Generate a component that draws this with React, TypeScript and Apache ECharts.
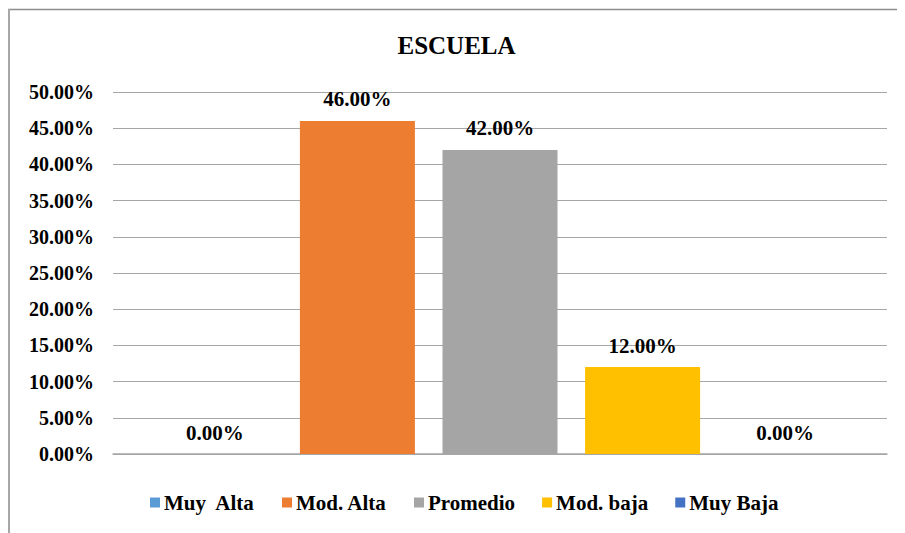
import React, { useEffect, useRef } from "react";
import * as echarts from "echarts";

const title = "ESCUELA";
const categories = ["ESCUELA"];
const seriesNames = ["Muy  Alta", "Mod. Alta", "Promedio", "Mod. baja", "Muy Baja"];
const seriesValues = [0, 46, 42, 12, 0];
const seriesColors = ["#5B9BD5", "#ED7D31", "#A5A5A5", "#FFC000", "#4472C4"];
const yMin = 0;
const yMax = 50;
const yInterval = 5;

const FONT = "Times New Roman, Liberation Serif, serif";

export default function App() {
  const ref = useRef<HTMLDivElement>(null);
  useEffect(() => {
    if (!ref.current) return;
    const chart = echarts.init(ref.current, undefined, { renderer: "svg" });
    chart.setOption({
      animation: false,
      backgroundColor: "#ffffff",
      textStyle: { fontFamily: FONT },
      title: {
        text: title,
        left: "center",
        top: 20,
        textStyle: { fontFamily: FONT, fontWeight: "bold", fontSize: 25, color: "#000" },
      },
      legend: {
        bottom: 15,
        left: 137,
        icon: "rect",
        itemWidth: 10,
        itemHeight: 10,
        itemGap: 27,
        textStyle: { fontFamily: FONT, fontWeight: "bold", fontSize: 21, color: "#000", padding: [0, 0, 0, -1] },
        data: seriesNames,
      },
      grid: { left: 105, right: 18, top: 84, bottom: 79, containLabel: false },
      xAxis: {
        type: "category",
        data: categories,
        axisLine: { show: true, lineStyle: { color: "#a6a6a6", width: 1.5 } },
        axisTick: { show: false },
        axisLabel: { show: false },
      },
      yAxis: {
        type: "value",
        min: yMin,
        max: yMax,
        interval: yInterval,
        axisLine: { show: false },
        axisTick: { show: false },
        splitLine: { lineStyle: { color: "#a6a6a6", width: 1 } },
        axisLabel: {
          margin: 19,
          fontFamily: FONT,
          fontWeight: "bold",
          fontSize: 20,
          color: "#000",
          formatter: (v: number) => v.toFixed(2) + "%",
        },
      },
      series: seriesNames.map((name, i) => ({
        name,
        type: "bar",
        data: [seriesValues[i]],
        barWidth: 115,
        barGap: "24%",
        itemStyle: { color: seriesColors[i] },
        label: {
          show: true,
          position: "top",
          distance: 11,
          fontFamily: FONT,
          fontWeight: "bold",
          fontSize: 21,
          color: "#000",
          formatter: (p: any) => Number(p.value).toFixed(2) + "%",
        },
      })),
      graphic: [
        { type: "line", shape: { x1: 0, y1: 1.5, x2: 897, y2: 1.5 }, style: { stroke: "#8c8c8c", lineWidth: 1.5 } },
        { type: "line", shape: { x1: 1, y1: 1, x2: 1, y2: 525 }, style: { stroke: "#a6a6a6", lineWidth: 2 } },
      ],
    });
    return () => chart.dispose();
  }, []);
  return <div ref={ref} style={{ width: 897, height: 525 }} />;
}
